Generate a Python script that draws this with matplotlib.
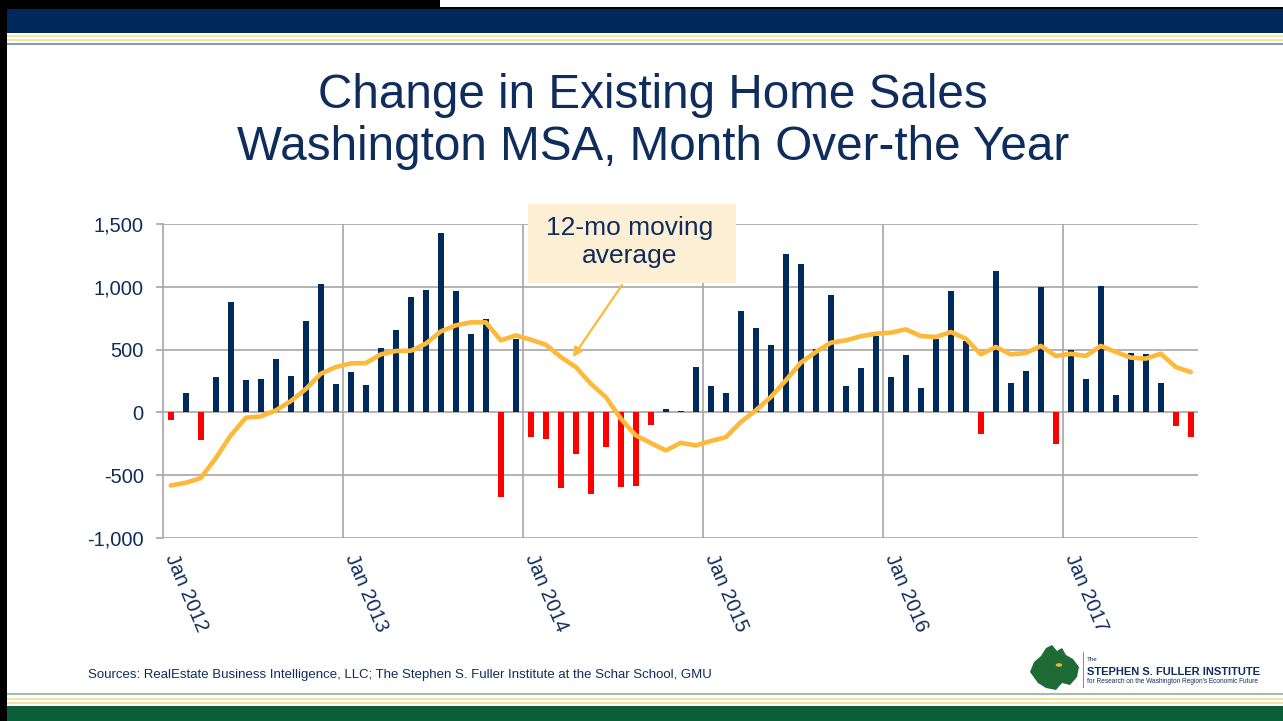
import numpy as np
import matplotlib
matplotlib.use('Agg')
import matplotlib.pyplot as plt
from matplotlib.patches import Rectangle, Polygon, Circle
from matplotlib import font_manager

# --- canvas / style ---
W, H = 1283, 721
NAVY = '#002A5C'
TXT = '#0F2D5C'
RED = '#FF0000'
GOLD = '#FDB93A'
GRID = '#A6A6A6'

names = {f.name for f in font_manager.fontManager.ttflist}
BASE = 'Liberation Sans' if 'Liberation Sans' in names else 'DejaVu Sans'
plt.rcParams['font.family'] = [BASE, 'DejaVu Sans']

# --- data ---
year_labels = ['Jan 2012', 'Jan 2013', 'Jan 2014', 'Jan 2015', 'Jan 2016', 'Jan 2017']

# monthly change in existing home sales, Jan 2012 .. Sep 2017
sales_change = [-60, 155, -220, 285, 880, 260, 265, 425, 290, 730, 1025, 228,
                320, 215, 513, 660, 922, 972, 1430, 970, 627, 744, -677, 587,
                -197, -210, -600, -335, -653, -279, -595, -584, -98, 27, 8, 361,
                207, 157, 805, 675, 539, 1259, 1185, 507, 932, 212, 353, 606,
                279, 459, 194, 582, 964, 566, -173, 1123, 234, 327, 999, -255,
                494, 263, 1004, 141, 475, 467, 231, -109, -197]

# 12-month moving average
moving_avg = [-582, -560, -523, -364, -183, -42, -32, 16, 90, 186, 308, 361,
              390, 393, 462, 489, 491, 547, 645, 693, 717, 717, 574, 613,
              579, 539, 441, 361, 228, 122, -50, -183, -244, -303, -242, -263,
              -228, -197, -77, 16, 122, 255, 396, 481, 555, 574, 606, 627,
              635, 661, 608, 600, 640, 587, 462, 521, 462, 473, 529, 449,
              467, 449, 529, 481, 436, 428, 467, 361, 321]

y_ticks = [-1000, -500, 0, 500, 1000, 1500]


def fx(x):
    return x / W


def fy(y):
    return 1 - y / H


fig = plt.figure(figsize=(W / 100, H / 100), dpi=100)
fig.patch.set_facecolor('white')


def band(x0, y0, x1, y1, color, z=1):
    fig.add_artist(Rectangle((fx(x0), fy(y1)), fx(x1) - fx(x0), fy(y0) - fy(y1),
                             transform=fig.transFigure, facecolor=color,
                             edgecolor='none', zorder=z))


# slide frame: header, footer, stripes
band(0, 0, 440, 9, '#000000')
band(0, 7, W, 9, '#000000')
band(0, 9, W, 33, '#00285A')
band(0, 35, W, 37, '#F2E3A6')
band(0, 39, W, 41, '#F2E3A6')
band(0, 43, W, 45, '#8C9AAE')
band(0, 693, W, 695, '#9DBFB0')
band(0, 698, W, 700, '#F2E3A6')
band(0, 702, W, 704, '#F2E3A6')
band(0, 706, W, H, '#0B5E38')
band(0, 0, 7, H, '#000000', z=2)

# --- chart ---
ax = fig.add_axes([fx(163.3), fy(538), fx(1198.3) - fx(163.3), fy(224) - fy(538)])
x = np.arange(len(sales_change))
vals = np.array(sales_change)
colors = [NAVY if v >= 0 else RED for v in vals]
ax.bar(x, vals, width=0.42, color=colors, zorder=2)
ax.plot(x, moving_avg, color=GOLD, lw=3.3, solid_joinstyle='round',
        solid_capstyle='round', zorder=3)

ax.set_xlim(-0.5, len(sales_change) - 0.5)
ax.set_ylim(-1000, 1500)
ax.set_yticks(y_ticks)
ax.set_yticklabels([f'{v:,}' for v in y_ticks])
ax.yaxis.grid(True, color=GRID, lw=1.2)
year_pos = [-0.5 + 12 * k for k in range(len(year_labels))]
for xp in year_pos[1:]:
    ax.axvline(xp, color=GRID, lw=1.2, zorder=1)
ax.set_axisbelow(True)
for s in ['top', 'right', 'bottom']:
    ax.spines[s].set_visible(False)
ax.spines['left'].set_color(GRID)
ax.spines['left'].set_linewidth(1.2)
ax.tick_params(axis='y', colors=GRID, length=5, width=1.2, pad=9,
               labelcolor=TXT, labelsize=14.5)
ax.set_xticks([])

for xp, lab in zip(year_pos, year_labels):
    ax.text(xp - 0.15, -0.065, lab, transform=ax.get_xaxis_transform(),
            rotation=-67, rotation_mode='anchor', ha='left', va='bottom',
            fontsize=14.5, color=TXT)

# --- title ---
fig.text(0.509, fy(108), 'Change in Existing Home Sales', ha='center',
         va='baseline', fontsize=34.3, color=TXT)
fig.text(0.509, fy(160), 'Washington MSA, Month Over-the Year', ha='center',
         va='baseline', fontsize=34.3, color=TXT)

# --- annotation ---
fig.add_artist(Rectangle((fx(528), fy(283)), fx(736) - fx(528), fy(204) - fy(283),
                         transform=fig.transFigure, facecolor='#FDEFD3',
                         edgecolor='none', zorder=5))
fig.text(fx(630), fy(242), '12-mo moving\naverage', ha='center', va='center',
         fontsize=19, color=TXT, linespacing=1.22, zorder=6)
ax.annotate('', xy=(26.8, 440), xycoords='data',
            xytext=(fx(622), fy(285)), textcoords='figure fraction',
            arrowprops=dict(arrowstyle='-|>', color=GOLD, lw=1.6,
                            mutation_scale=14, shrinkA=0, shrinkB=0),
            zorder=6)

# --- footer ---
fig.text(fx(88), fy(678), 'Sources: RealEstate Business Intelligence, LLC; '
         'The Stephen S. Fuller Institute at the Schar School, GMU',
         ha='left', va='baseline', fontsize=9.5, color=TXT)

# logo
blob = [(1030, 672), (1034, 662), (1041, 656), (1046, 648), (1052, 645),
        (1057, 651), (1062, 648), (1066, 655), (1073, 659), (1079, 667),
        (1077, 677), (1070, 685), (1062, 683), (1056, 690), (1046, 688),
        (1038, 683)]
fig.add_artist(Polygon([(fx(a), fy(b)) for a, b in blob], closed=True,
                       transform=fig.transFigure, facecolor='#1E6B35',
                       edgecolor='none', zorder=3))
fig.add_artist(Circle((fx(1059), fy(665)), 0.0025, transform=fig.transFigure,
                      facecolor='#F2B233', edgecolor='none', zorder=4))
band(1083, 652, 1084, 688, '#8A8A8A', z=3)
fig.text(fx(1087), fy(661), 'The', ha='left', va='baseline', fontsize=4.5,
         color=TXT)
fig.text(fx(1087), fy(675), 'STEPHEN S. FULLER INSTITUTE', ha='left',
         va='baseline', fontsize=8, color=TXT, fontweight='bold')
fig.text(fx(1087), fy(683), "for Research on the Washington Region's Economic Future",
         ha='left', va='baseline', fontsize=4.7, color=TXT)

fig.savefig('out.png', dpi=100, facecolor='white')
